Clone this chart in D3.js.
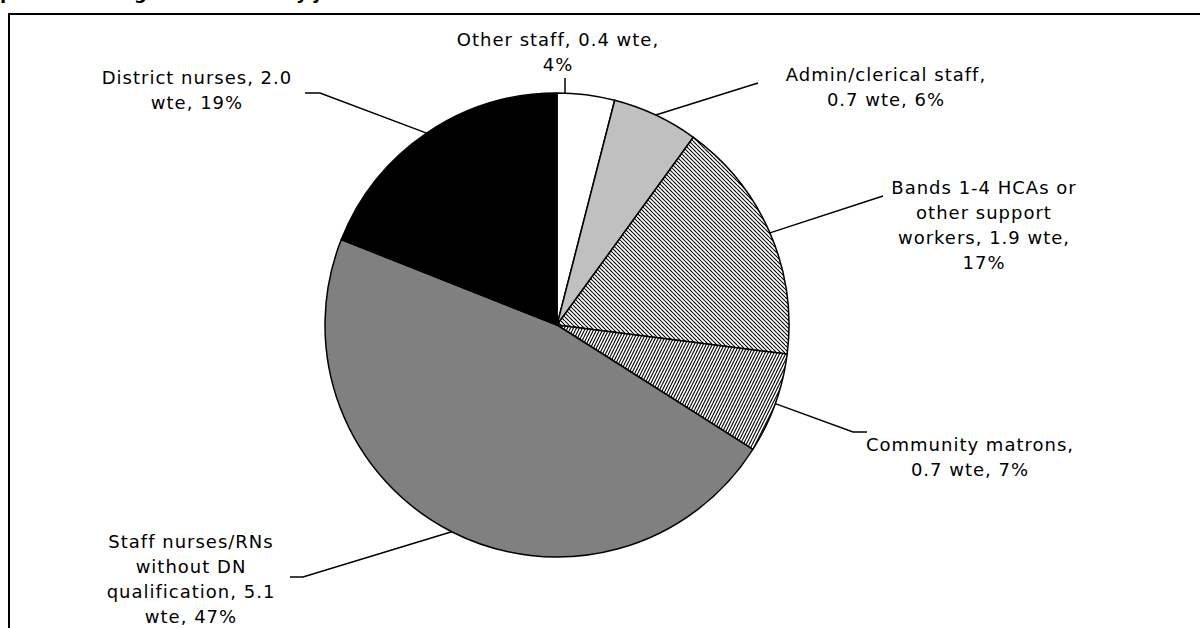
<!DOCTYPE html>
<html><head><meta charset="utf-8">
<script src="https://cdn.jsdelivr.net/npm/d3@7"></script>
<style>
html,body{margin:0;padding:0;background:#fff;}
svg{display:block;}
text{font-family:"DejaVu Sans",Verdana,sans-serif;}
</style></head><body>
<svg id="chart" width="1200" height="628"></svg>
<script>
// Staff groups of the team, in clockwise order from 12 o'clock
const categories = [
  "Other staff",
  "Admin/clerical staff",
  "Bands 1-4 HCAs or other support workers",
  "Community matrons",
  "Staff nurses/RNs without DN qualification",
  "District nurses"
];
const wte = [0.4, 0.7, 1.9, 0.7, 5.1, 2.0];
const percent = [4, 6, 17, 7, 47, 19];
const fills = ["#ffffff", "#c0c0c0", "url(#hatchBands)", "url(#hatchMatrons)", "#808080", "#000000"];
const titleText = "Make-up of an average-sized team by job role";

// label placement: centre x, first baseline, wrap width, leader elbow points
const labelLayout = [
  {cx: 558, y: 46, wrap: 215, leader: [[565, 78]], vertical: true},
  {cx: 886, y: 81, wrap: 235, leader: [[758, 83]]},
  {cx: 984, y: 194, wrap: 190, leader: [[883, 196]]},
  {cx: 970, y: 451, wrap: 210, leader: [[853, 432], [867, 432]]},
  {cx: 191, y: 548, wrap: 190, leader: [[303, 577], [290, 577]]},
  {cx: 197, y: 84, wrap: 210, leader: [[320, 93], [305, 93]]}
];

const W = 1200, H = 628;
const cx = 557, cy = 325, r = 232;
const fontSize = 18, letterSpacing = 1, lineHeight = 25;

const svg = d3.select("#chart");
const defs = svg.append("defs");

function hatch(id, w, h, d) {
  const p = defs.append("pattern").attr("id", id)
    .attr("patternUnits", "userSpaceOnUse").attr("width", w).attr("height", h);
  p.append("rect").attr("width", w).attr("height", h).attr("fill", "#fff");
  p.append("path").attr("d", d).attr("stroke", "#000").attr("stroke-width", 1.1).attr("fill", "none");
}
hatch("hatchBands", 4, 4, "M-4,0 L0,4 M0,0 L4,4 M4,0 L8,4");
hatch("hatchMatrons", 3, 6, "M-3,6 L0,0 M0,6 L3,0 M3,6 L6,0");

// title (runs off the top edge of the page)
const title = svg.append("text")
  .attr("y", -0.8)
  .attr("font-weight", "bold")
  .attr("font-size", 18)
  .text(titleText);
const lead = title.node().getSubStringLength(0, titleText.indexOf("p"));
title.attr("x", -lead);

// plot frame
svg.append("path")
  .attr("d", `M9,${H} L9,14 L${W},14`)
  .attr("fill", "none").attr("stroke", "#000").attr("stroke-width", 2);

const data = categories.map((c, i) => ({
  cat: c, wte: wte[i], pct: percent[i], fill: fills[i], layout: labelLayout[i]
}));

const pie = d3.pie().sort(null).value(d => d.pct);
const arcs = pie(data);
const arc = d3.arc().innerRadius(0).outerRadius(r);

const g = svg.append("g").attr("transform", `translate(${cx},${cy})`);
g.selectAll("path.slice").data(arcs).join("path")
  .attr("class", "slice")
  .attr("d", arc)
  .attr("fill", d => d.data.fill)
  .attr("stroke", "#000")
  .attr("stroke-width", 1.5)
  .attr("stroke-linejoin", "round");

// leader lines
const line = d3.line();
arcs.forEach(a => {
  const L = a.data.layout;
  let start;
  if (L.vertical) {
    const x = L.leader[0][0];
    start = [x, cy - Math.sqrt(r * r - (x - cx) * (x - cx))];
  } else {
    const m = (a.startAngle + a.endAngle) / 2;
    start = [cx + r * Math.sin(m), cy - r * Math.cos(m)];
  }
  svg.append("path")
    .attr("d", line([start, ...L.leader]))
    .attr("fill", "none").attr("stroke", "#000").attr("stroke-width", 1.5);
});

// data labels, wrapped to width
const measure = svg.append("text")
  .attr("font-size", fontSize).attr("letter-spacing", letterSpacing)
  .attr("visibility", "hidden");
function textWidth(s) { measure.text(s); return measure.node().getComputedTextLength(); }

arcs.forEach(a => {
  const d = a.data, L = d.layout;
  const full = `${d.cat}, ${d.wte.toFixed(1)} wte, ${d.pct}%`;
  const words = full.split(" ");
  const lines = [];
  let cur = "";
  words.forEach(w => {
    const test = cur ? cur + " " + w : w;
    if (cur && textWidth(test) > L.wrap) { lines.push(cur); cur = w; }
    else cur = test;
  });
  if (cur) lines.push(cur);
  const t = svg.append("text")
    .attr("font-size", fontSize).attr("letter-spacing", letterSpacing)
    .attr("text-anchor", "middle").attr("fill", "#000");
  lines.forEach((s, i) => {
    t.append("tspan").attr("x", L.cx).attr("y", L.y + i * lineHeight).text(s);
  });
});
measure.remove();
</script>
</body></html>
